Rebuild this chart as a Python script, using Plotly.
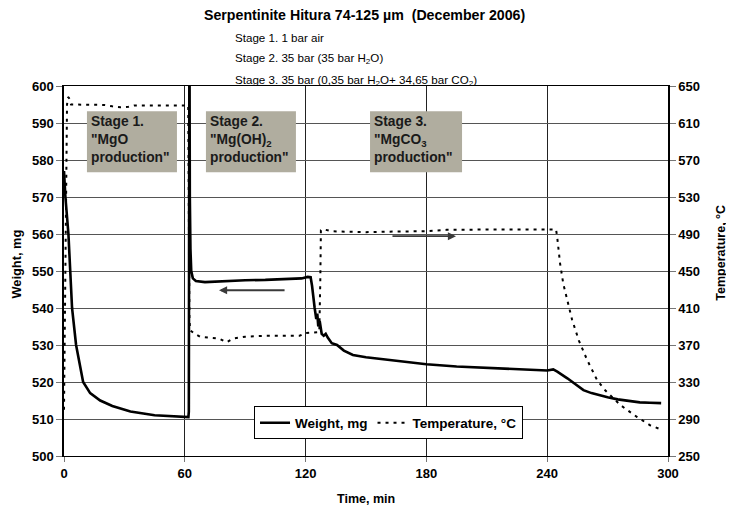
import plotly.graph_objects as go

# ---- data ----
weight_t = [0, 0.7, 2.2, 3, 4, 6, 9.5, 13, 18, 24, 33, 45, 55, 61.8, 62.0, 62.3,
            62.5, 62.8, 63.2, 64, 65.5, 70, 80, 90, 100, 110, 118, 121, 122.5,
            123.2, 123.7, 124.5, 125.3, 125.8, 126.3, 127, 128, 129, 130, 131,
            133, 135.6, 139, 143.5, 150, 160, 170, 180, 195, 210, 225, 240, 243,
            245, 250, 254, 258, 262, 266, 270, 275, 280, 286, 291, 296.6]
weight_mg = [577, 570, 560, 550, 540, 530, 520, 517, 515, 513.5, 512, 511, 510.6,
             510.5, 512, 620,
             570, 556, 550, 548, 547.3, 547, 547.3, 547.5, 547.6, 547.8, 548,
             548.4, 548.3,
             546, 543, 540, 537, 538.5, 535, 536.5, 533, 532.5, 533, 532,
             530.5, 530, 528.5, 527.3, 526.7, 526, 525.4, 524.8, 524.2, 523.8,
             523.4, 523.1, 523.4,
             522.8, 521, 519.3, 517.8, 517, 516.4, 515.9, 515.3, 514.9, 514.5,
             514.4, 514.3]

temp_t = [0, 0.5, 1, 1.5, 2, 2.5, 3.5, 10, 20, 24, 28, 32, 35, 45, 55, 61.7,
          62.3, 62.6, 65, 67.5, 72, 77, 80.8, 84, 90, 100, 110, 117, 120, 126.8,
          127.3, 127.6, 129, 133, 140, 150, 160, 170, 180, 190, 201.7, 220, 235,
          244.4, 245, 246.4, 248, 249.9, 252.4, 255.7, 259.8, 264.8, 268.8,
          276.4, 284.7, 291.3, 296.2]
temp_c = [300, 400, 560, 630, 638, 637, 630, 630, 629.5, 628, 627, 627.5, 629,
          629, 629, 629,
          400, 386, 382, 379, 378, 377, 373, 377, 379, 380, 380, 380, 383, 384,
          440, 494, 495, 493, 492.5, 492, 492.5, 492.5, 493, 494.5, 495, 495,
          495, 495, 486, 458, 436, 418, 397, 375, 354, 332, 321, 305, 292, 283,
          279]

x_ticks = [0, 60, 120, 180, 240, 300]
y_left_ticks = [500, 510, 520, 530, 540, 550, 560, 570, 580, 590, 600]
y_right_ticks = [250, 290, 330, 370, 410, 450, 490, 530, 570, 610, 650]

title = "Serpentinite Hitura 74-125 µm  (December 2006)"
subtitles = ["Stage 1. 1 bar air",
             "Stage 2. 35 bar (35 bar H<sub>2</sub>O)",
             "Stage 3. 35 bar (0,35 bar H<sub>2</sub>O+ 34,65 bar CO<sub>2</sub>)"]
stage_labels = ["Stage 1.<br>\"MgO<br>production\"",
                "Stage 2.<br>\"Mg(OH)<sub>2</sub><br>production\"",
                "Stage 3.<br>\"MgCO<sub>3</sub><br>production\""]
stage_x0 = [11.4, 70.5, 152.0]
stage_x1 = [56.1, 115.2, 197.7]
stage_y0 = 576.7
stage_y1 = 593.2

FONT = "Liberation Sans, Arial, sans-serif"

fig = go.Figure()
fig.add_trace(go.Scatter(x=weight_t, y=weight_mg, mode="lines", name="Weight, mg",
                         line=dict(color="black", width=2.6)))
fig.add_trace(go.Scatter(x=temp_t, y=temp_c, mode="lines", name="Temperature, °C",
                         yaxis="y2",
                         line=dict(color="black", width=2, dash="3px,5px")))

shapes = []
annotations = []
for x0, x1, lab in zip(stage_x0, stage_x1, stage_labels):
    shapes.append(dict(type="rect", xref="x", yref="y", x0=x0, x1=x1,
                       y0=stage_y0, y1=stage_y1, fillcolor="#b0ad9f",
                       line=dict(width=0), layer="above"))
    annotations.append(dict(xref="x", yref="y", x=x0 + 0.9, y=stage_y1 - 0.3,
                            xanchor="left", yanchor="top", align="left",
                            text="<b>" + lab + "</b>", showarrow=False,
                            font=dict(family=FONT, size=13.8, color="#1a1a1a")))

# arrows pointing to axes
annotations.append(dict(xref="x", yref="y", axref="x", ayref="y",
                        x=77, y=544.8, ax=110.3, ay=544.8, text="",
                        showarrow=True, arrowhead=2, arrowsize=0.9, arrowwidth=1.8,
                        arrowcolor="#3a3a3a"))
annotations.append(dict(xref="x", yref="y2", axref="x", ayref="y2",
                        x=194.7, y=487.6, ax=162.4, ay=487.6, text="",
                        showarrow=True, arrowhead=2, arrowsize=0.9, arrowwidth=1.8,
                        arrowcolor="#3a3a3a"))

annotations.append(dict(xref="paper", yref="paper", x=0.497, y=1.192,
                        text="<b>" + title + "</b>", showarrow=False,
                        xanchor="center", yanchor="middle",
                        font=dict(family=FONT, size=14.2, color="black")))
for yy, s in zip([1.130, 1.073, 1.016], subtitles):
    annotations.append(dict(xref="paper", yref="paper", x=0.2798, y=yy,
                            text=s, showarrow=False, xanchor="left",
                            yanchor="middle",
                            font=dict(family=FONT, size=11.6, color="black")))
annotations.append(dict(xref="paper", yref="paper", x=-0.078, y=0.52,
                        text="<b>Weight, mg</b>", textangle=-90, showarrow=False,
                        xanchor="center", yanchor="middle",
                        font=dict(family=FONT, size=12.8, color="black")))
annotations.append(dict(xref="paper", yref="paper", x=1.088, y=0.55,
                        text="<b>Temperature, °C</b>", textangle=-90,
                        showarrow=False, xanchor="center", yanchor="middle",
                        font=dict(family=FONT, size=12.5, color="black")))
annotations.append(dict(xref="paper", yref="paper", x=0.5, y=-0.116,
                        text="<b>Time, min</b>", showarrow=False,
                        xanchor="center", yanchor="middle",
                        font=dict(family=FONT, size=12.5, color="black")))

tickfont = dict(family=FONT, size=13, color="black", weight="bold")

# the page places the figure 8px from the window's top-left corner
fig.update_layout(
    width=726, height=500,
    margin=dict(l=56, r=66, t=78, b=52, autoexpand=False),
    paper_bgcolor="white", plot_bgcolor="white",
    showlegend=True,
    legend=dict(orientation="h", x=0.3146, y=0.134, xanchor="left",
                yanchor="top", bgcolor="white", bordercolor="black",
                borderwidth=1, font=dict(family=FONT, size=13.5, color="black",
                                         weight="bold"),
                itemwidth=30, tracegroupgap=0),
    xaxis=dict(range=[0, 300], tickvals=x_ticks, ticks="outside", ticklen=5,
               tickcolor="#777", showline=True, linecolor="black", linewidth=1,
               mirror=True, showgrid=True, gridcolor="#222", gridwidth=1,
               zeroline=False, tickfont=tickfont),
    yaxis=dict(range=[500, 600], tickvals=y_left_ticks, ticks="outside",
               ticklen=6, tickcolor="#777", showline=True, linecolor="black",
               linewidth=1.5, showgrid=True, gridcolor="#555", gridwidth=1,
               zeroline=False, tickfont=tickfont),
    yaxis2=dict(range=[250, 650], tickvals=y_right_ticks, overlaying="y",
                side="right", ticks="outside", ticklen=6, tickcolor="#777",
                showline=True, linecolor="black", linewidth=1.5, showgrid=False,
                zeroline=False, tickfont=tickfont),
    shapes=shapes,
    annotations=annotations,
)

fig.write_html("out.html")
